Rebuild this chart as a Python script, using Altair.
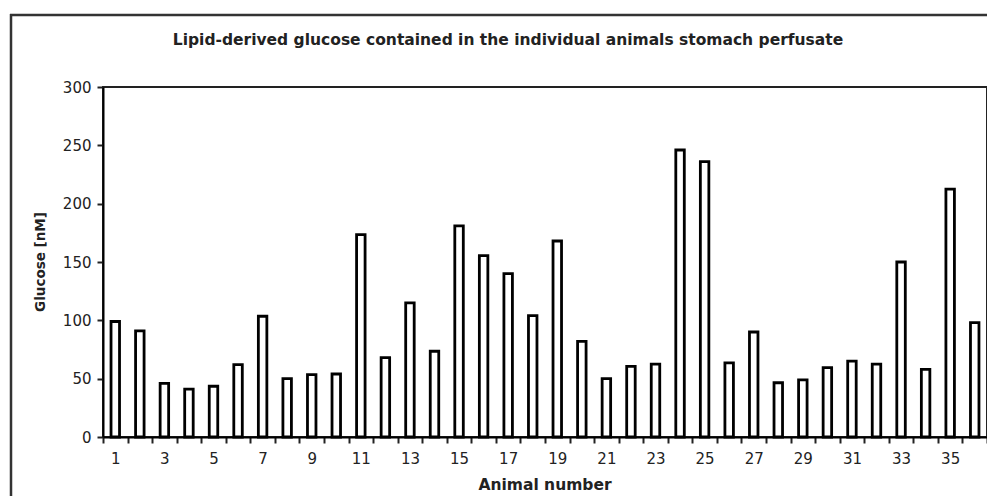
import altair as alt
import pandas as pd

animals = list(range(1, 37))
glucose = [99, 91, 46, 41, 43.5, 62, 103.5, 50, 53.5, 54, 173.5, 68, 115, 73.5, 181, 155.5,
           140, 104, 168, 82, 50, 60.5, 62.5, 246, 236, 63.5, 90, 46.5, 49, 59.5, 65, 62.5,
           150, 58, 212.5, 98]
y_ticks = [0, 50, 100, 150, 200, 250, 300]
chart_title = "Lipid-derived glucose contained in the individual animals stomach perfusate"
x_title = "Animal number"
y_title = "Glucose [nM]"

df = pd.DataFrame({"animal": animals, "glucose": glucose})
one = pd.DataFrame({"k": [0]})

FONT = "DejaVu Sans"
W, H = 884, 350

bars = alt.Chart(df).mark_bar(size=8.5, fill="white", stroke="black", strokeWidth=2.8).encode(
    x=alt.X("animal:O", title=None,
            scale=alt.Scale(paddingInner=0, paddingOuter=0),
            axis=alt.Axis(labelAngle=0, tickBand="extent",
                          labelExpr="datum.value % 2 == 1 ? datum.label : ''",
                          labelFont=FONT, labelFontSize=15, labelColor="#222",
                          labelPadding=8, tickSize=6, tickWidth=2, tickColor="#222",
                          domainColor="black", domainWidth=2)),
    y=alt.Y("glucose:Q", title=None,
            scale=alt.Scale(domain=[0, 300], nice=False),
            axis=alt.Axis(values=y_ticks, grid=False,
                          labelFont=FONT, labelFontSize=15, labelColor="#222",
                          labelPadding=6, tickSize=6, tickWidth=2, tickColor="#222",
                          domainColor="black", domainWidth=2)),
)

left_border = alt.Chart(one).mark_rule(color="#333", strokeWidth=2.5).encode(
    x=alt.value(-92), y=alt.value(-73), y2=alt.value(H + 80))
top_border = alt.Chart(one).mark_rule(color="#333", strokeWidth=2.5).encode(
    x=alt.value(-93), x2=alt.value(W + 20), y=alt.value(-72))

title_txt = alt.Chart(one).mark_text(font=FONT, fontSize=15.5, fontWeight="bold",
                                     color="#222", align="center", baseline="alphabetic").encode(
    x=alt.value(405), y=alt.value(-42.5), text=alt.value(chart_title))
xt_txt = alt.Chart(one).mark_text(font=FONT, fontSize=15.5, fontWeight="bold",
                                  color="#222", align="center", baseline="alphabetic").encode(
    x=alt.value(W / 2), y=alt.value(H + 53), text=alt.value(x_title))
yt_txt = alt.Chart(one).mark_text(font=FONT, fontSize=13.5, fontWeight="bold", angle=270,
                                  color="#222", align="center", baseline="middle").encode(
    x=alt.value(-62), y=alt.value(H / 2), text=alt.value(y_title))

chart = alt.layer(bars, left_border, top_border, title_txt, xt_txt, yt_txt).properties(
    width=W, height=H,
    autosize=alt.AutoSizeParams(type="none"),
    padding={"left": 95, "top": 79, "right": 0, "bottom": 59},
).configure_view(stroke="#222", strokeWidth=2)

chart.save("out.html", embed_options={"renderer": "svg", "actions": False})
